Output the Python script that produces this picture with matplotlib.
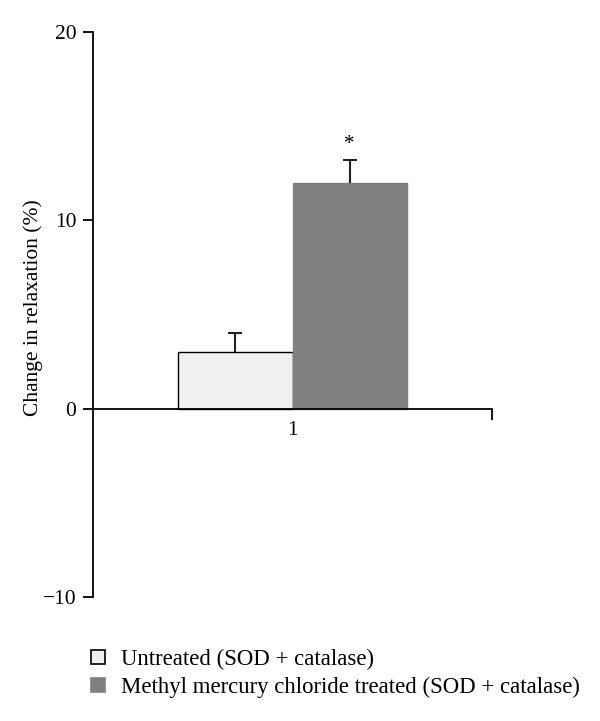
import numpy as np
import matplotlib.pyplot as plt
from matplotlib.patches import Patch

plt.rcParams['font.family'] = ['Liberation Serif', 'DejaVu Serif']

groups = ['1']
labels = ['Untreated (SOD + catalase)',
          'Methyl mercury chloride treated (SOD + catalase)']
means = [3.0, 12.0]
errors = [1.0, 1.2]
significant = [False, True]
colors = ['#f0f0f0', '#808080']
edges = ['#000000', '#808080']

fig = plt.figure(figsize=(6, 7.21), dpi=100)
ax = fig.add_axes([0.155, 0.172, 0.665, 0.7836])

x = np.arange(1, len(groups) + 1)
width = 0.286
offsets = [-width / 2, width / 2]

for i in range(len(means)):
    xi = x + offsets[i]
    ax.bar(xi, means[i], width, color=colors[i],
           edgecolor=edges[i], linewidth=1.0, zorder=2)
    # upper error bar only: stem + cap
    top = np.array([means[i] + errors[i]])
    ax.vlines(xi, means[i], top, color='#222222', linewidth=1.5, zorder=3)
    ax.plot(xi, top, marker='_', markersize=9.4, markeredgewidth=1.5,
            color='#222222', linestyle='none', zorder=3)
    if significant[i]:
        ax.text(xi[0], top[0] + 0.85, '*', ha='center', va='center', fontsize=15)

ax.set_xlim(0.5, 1.5)
ax.set_ylim(-10, 20)
ax.set_yticks([-10, 0, 10, 20])
ax.set_yticklabels(['\u221210', '0', '10', '20'])
ax.set_xticks(x)
ax.set_xticklabels(groups)
ax.set_xticks([1.5], minor=True)

ax.spines['top'].set_visible(False)
ax.spines['right'].set_visible(False)
ax.spines['bottom'].set_position(('data', 0))
ax.spines['left'].set_linewidth(1.3)
ax.spines['bottom'].set_linewidth(1.3)

ax.tick_params(axis='y', direction='out', length=7, width=1.3, labelsize=15.5, pad=5)
ax.tick_params(axis='x', which='major', length=0, labelsize=15.5, pad=9)
ax.tick_params(axis='x', which='minor', direction='out', length=8, width=1.3)

ax.set_ylabel('Change in relaxation (%)', fontsize=15.5)
ax.yaxis.set_label_coords(-0.125, 0.513)

handles = [Patch(facecolor=colors[i], edgecolor=edges[i], linewidth=1.2)
           for i in range(len(labels))]
fig.legend(handles, labels, loc='lower left', bbox_to_anchor=(0.152, 0.032),
           frameon=False, fontsize=16.4, handlelength=0.62, handleheight=0.62,
           handletextpad=0.7, labelspacing=0.3, borderaxespad=0, borderpad=0)

fig.savefig('out.png', dpi=100)
